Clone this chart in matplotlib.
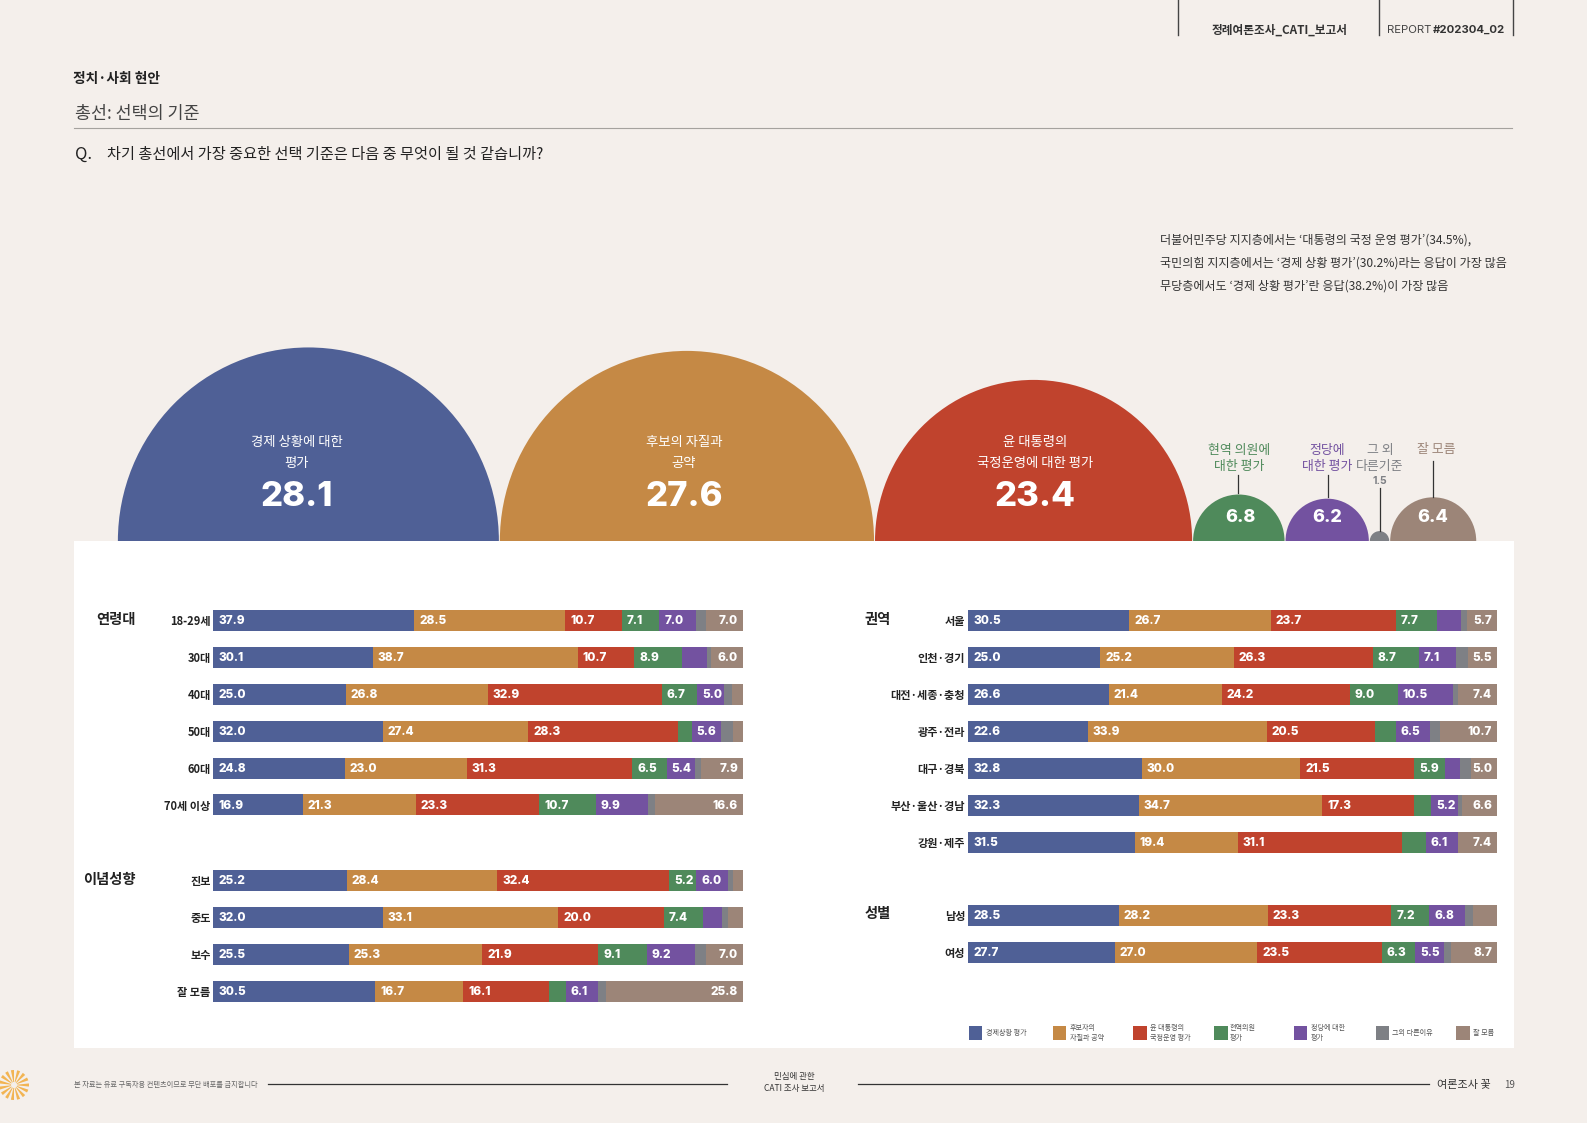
import matplotlib
matplotlib.use('Agg')
import matplotlib.pyplot as plt
from matplotlib.patches import Wedge, Rectangle

plt.rcParams['font.family'] = ['Noto Sans CJK KR', 'DejaVu Sans']

W, H = 1587, 1123
BG = '#F4EFEB'
NUM_FONT = ['Inter', 'DejaVu Sans']
colors = ['#4F6096', '#C58945', '#C0432D', '#4F8A5B', '#7352A0', '#7E8085', '#9C8578']

overview_values = [28.1, 27.6, 23.4, 6.8, 6.2, 1.5, 6.4]
legend_names = ['경제상황 평가', '후보자의\n자질과 공약', '윤 대통령의\n국정운영 평가', '현역의원\n평가',
                '정당에 대한\n평가', '그외 다른이유', '잘 모름']

age_names = ['18-29세', '30대', '40대', '50대', '60대', '70세 이상']
age_rows = [
    [37.9, 28.5, 10.7, 7.1, 7.0, 1.8, 7.0],
    [30.1, 38.7, 10.7, 8.9, 4.8, 0.8, 6.0],
    [25.0, 26.8, 32.9, 6.7, 5.0, 1.6, 2.0],
    [32.0, 27.4, 28.3, 2.6, 5.6, 2.2, 1.9],
    [24.8, 23.0, 31.3, 6.5, 5.4, 1.1, 7.9],
    [16.9, 21.3, 23.3, 10.7, 9.9, 1.3, 16.6],
]
ideology_names = ['진보', '중도', '보수', '잘 모름']
ideology_rows = [
    [25.2, 28.4, 32.4, 5.2, 6.0, 1.0, 1.8],
    [32.0, 33.1, 20.0, 7.4, 3.6, 1.1, 2.8],
    [25.5, 25.3, 21.9, 9.1, 9.2, 2.0, 7.0],
    [30.5, 16.7, 16.1, 3.2, 6.1, 1.6, 25.8],
]
region_names = ['서울', '인천·경기', '대전·세종·충청', '광주·전라', '대구·경북', '부산·울산·경남', '강원·제주']
region_rows = [
    [30.5, 26.7, 23.7, 7.7, 4.6, 1.1, 5.7],
    [25.0, 25.2, 26.3, 8.7, 7.1, 2.2, 5.5],
    [26.6, 21.4, 24.2, 9.0, 10.5, 0.9, 7.4],
    [22.6, 33.9, 20.5, 3.9, 6.5, 1.9, 10.7],
    [32.8, 30.0, 21.5, 5.9, 2.8, 2.0, 5.0],
    [32.3, 34.7, 17.3, 3.2, 5.2, 0.7, 6.6],
    [31.5, 19.4, 31.1, 4.4, 6.1, 0.0, 7.4],
]
gender_names = ['남성', '여성']
gender_rows = [
    [28.5, 28.2, 23.3, 7.2, 6.8, 1.5, 4.5],
    [27.7, 27.0, 23.5, 6.3, 5.5, 1.3, 8.7],
]

fig = plt.figure(figsize=(W / 100, H / 100), dpi=100, facecolor=BG)


def px_axes(x0, y0, x1, y1, z=2):
    # axes placed by page pixels, y counted from the top
    ax = fig.add_axes([x0 / W, 1 - y1 / H, (x1 - x0) / W, (y1 - y0) / H], zorder=z)
    ax.patch.set_visible(False)
    return ax


page = px_axes(0, 0, W, H, z=1)
page.set_xlim(0, W)
page.set_ylim(H, 0)
page.axis('off')
top = px_axes(0, 0, W, H, z=5)
top.set_xlim(0, W)
top.set_ylim(H, 0)
top.axis('off')

page.add_patch(Rectangle((74, 541), 1440, 507, color='white', lw=0))

# header
for x in [1178, 1379, 1512.5]:
    page.plot([x, x], [0, 35], color='#444444', lw=1)
page.text(1280, 30, '정례여론조사_CATI_보고서', fontsize=8.4, fontweight='bold', color='#333333', ha='center', va='center')
page.text(1387, 30, 'REPORT', fontsize=8.2, family=NUM_FONT, color='#444444', va='center')
page.text(1433, 30, '#202304_02', fontsize=8.2, family=NUM_FONT, fontweight='bold', color='#333333', va='center')

# titles
page.text(73, 79, '정치·사회 현안', fontsize=9.9, fontweight='bold', color='#222222', va='center')
page.text(75, 114, '총선: 선택의 기준', fontsize=12.5, color='#444444', va='center')
page.plot([74, 1512], [128.3, 128.3], color='#A5A29E', lw=0.8)
page.text(75, 154, 'Q.', fontsize=12, color='#222222', va='center')
page.text(107, 154, '차기 총선에서 가장 중요한 선택 기준은 다음 중 무엇이 될 것 같습니까?', fontsize=10.95, color='#222222', va='center')
note_lines = ['더불어민주당 지지층에서는 ‘대통령의 국정 운영 평가’(34.5%),',
              '국민의힘 지지층에서는 ‘경제 상황 평가’(30.2%)라는 응답이 가장 많음',
              '무당층에서도 ‘경제 상황 평가’란 응답(38.2%)이 가장 많음']
for y, line in zip([240, 263, 286], note_lines):
    page.text(1160, y, line, fontsize=8.7, color='#333333', va='center')

# half circles, width of each one is its value
circ = px_axes(117.4, 341, 1476.7, 541, z=2)
circ.set_xlim(0, sum(overview_values))
circ.set_ylim(0, 200 / 13.593 / 1.016)
circ.axis('off')
start = 0
for v, c in zip(overview_values, colors):
    circ.add_patch(Wedge((start + v / 2, 0), v / 2 - 0.035, 0, 180, color=c, lw=0))
    start += v

big_labels = ['경제 상황에 대한\n평가', '후보의 자질과\n공약', '윤 대통령의\n국정운영에 대한 평가']
big_x = [296.5, 684, 1035]
for i in range(3):
    top.text(big_x[i], 452.5, big_labels[i], fontsize=9.6, fontweight='medium', color='white', ha='center', va='center', linespacing=1.6)
    top.text(big_x[i], 497, '%.1f' % overview_values[i], fontsize=25, fontweight='heavy', color='white',
             family=NUM_FONT, ha='center', va='center')

for x, i in [(1240, 3), (1327, 4), (1433, 6)]:
    top.text(x, 517.5, '%.1f' % overview_values[i], fontsize=13, fontweight='heavy', color='white',
             family=NUM_FONT, ha='center', va='center')

top.text(1239, 458.5, '현역 의원에\n대한 평가', fontsize=9.3, fontweight='medium', color=colors[3], ha='center', va='center', linespacing=1.25)
top.text(1327, 458.5, '정당에\n대한 평가', fontsize=9.3, fontweight='medium', color=colors[4], ha='center', va='center', linespacing=1.25)
top.text(1380, 458.5, '그 외\n다른기준', fontsize=9.3, color=colors[5], ha='center', va='center', linespacing=1.25)
top.text(1380, 481, '%.1f' % overview_values[5], fontsize=7.5, fontweight='bold', color=colors[5],
         family=NUM_FONT, ha='center', va='center')
top.text(1436, 450, '잘 모름', fontsize=9.3, color=colors[6], ha='center', va='center')
for x, y0, y1 in [(1237.5, 475, 493), (1328, 475, 497), (1380, 488, 531), (1433, 461, 497)]:
    top.plot([x, x], [y0, y1], color='#333333', lw=0.9)


def draw_group(names, rows, x0, x1, first_top):
    # one stacked bar group on its own 0-100 axes
    n = len(names)
    ax = px_axes(x0, first_top - 8, x1, first_top - 8 + n * 37, z=3)
    ax.set_xlim(0, 100)
    ax.set_ylim(n - 0.5, -0.5)
    for s in ax.spines.values():
        s.set_visible(False)
    ax.set_xticks([])
    ax.set_yticks(range(n))
    ax.set_yticklabels(names, fontsize=8, fontweight='bold', color='#222222')
    ax.tick_params(axis='y', length=0, pad=2)
    for i, row in enumerate(rows):
        left = 0
        scale = 100 / sum(row)
        for j, v in enumerate(row):
            w = v * scale
            ax.barh(i, w, left=left, height=21 / 37, color=colors[j], lw=0)
            if v >= 5:
                if j == 6:
                    ax.annotate('%.1f' % v, (left + w, i), xytext=(-3.6, -0.7), textcoords='offset points',
                                ha='right', va='center', fontsize=8.5, fontweight='heavy', color='white',
                                family=NUM_FONT)
                else:
                    ax.annotate('%.1f' % v, (left, i), xytext=(3.6, -0.7), textcoords='offset points',
                                ha='left', va='center', fontsize=8.5, fontweight='heavy', color='white',
                                family=NUM_FONT)
            left += w
    return ax


draw_group(age_names, age_rows, 213.5, 743, 609.5)
draw_group(ideology_names, ideology_rows, 213.5, 743, 869.7)
draw_group(region_names, region_rows, 968, 1497, 609.5)
draw_group(gender_names, gender_rows, 968, 1497, 904.5)

for x, y, s in [(136, 620, '연령대'), (136, 880, '이념성향'), (891, 620, '권역'), (891, 914, '성별')]:
    page.text(x, y, s, fontsize=10.3, fontweight='bold', color='#222222', ha='right', va='center')

# legend
swatch_x = [968.8, 1052.6, 1133, 1214, 1293.6, 1375.6, 1456]
label_x = [986, 1069.7, 1150, 1230, 1310.7, 1392, 1473]
for sx, lx, name, c in zip(swatch_x, label_x, legend_names, colors):
    page.add_patch(Rectangle((sx, 1026), 13.5, 13.5, color=c, lw=0))
    page.text(lx, 1033, name, fontsize=5.1, color='#555555', va='center', linespacing=1.3)

# footer
sun = px_axes(-1, 1070, 29, 1100, z=2)
sun.set_xlim(-1, 1)
sun.set_ylim(-1, 1)
sun.axis('off')
for a in range(0, 360, 24):
    sun.add_patch(Wedge((0, 0), 1, a - 6, a + 6, width=0.8, color='#F2B452', lw=0))
page.text(74, 1084.5, '본 자료는 유료 구독자용 컨텐츠이므로 무단 배포를 금지합니다', fontsize=5.2, color='#666666', va='center')
page.plot([268, 727], [1083.5, 1083.5], color='#333333', lw=0.9)
page.plot([858, 1429], [1083.5, 1083.5], color='#333333', lw=0.9)
page.text(794, 1082.5, '민심에 관한\nCATI 조사 보고서', fontsize=6.1, color='#333333', ha='center', va='center', linespacing=1.3)
page.text(1437, 1085, '여론조사 꽃', fontsize=8, color='#333333', va='center')
page.text(1510, 1085, '19', fontsize=7, color='#555555', ha='center', va='center')

plt.savefig('out.png', dpi=100, facecolor=BG)
plt.close()
